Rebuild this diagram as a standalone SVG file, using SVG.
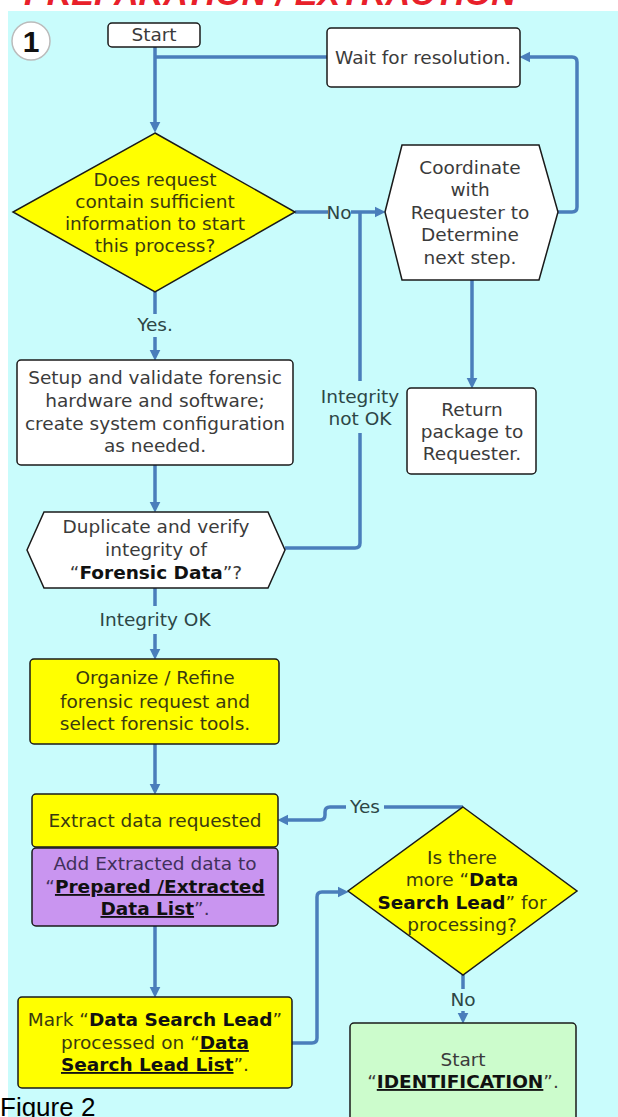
<svg xmlns="http://www.w3.org/2000/svg" width="618" height="1117" viewBox="0 0 618 1117">
<style>
.bg{fill:#c9fcfc}
.box{stroke:#1a1a1a;stroke-width:1.5}
.w{fill:#ffffff}
.y{fill:#ffff00}
.p{fill:#c995f0}
.g{fill:#ccfccc}
.t{font-family:"DejaVu Sans",Verdana,sans-serif;font-size:18.5px;text-anchor:middle}
.tw{fill:#3b3b3b}
.ty{fill:#3a3a10}
.tp{fill:#40305a}
.lab{fill:#2d4646}
.b{font-weight:bold;fill:#111}
.u{text-decoration:underline}
.c{fill:none;stroke:#4a7ebb;stroke-width:3.5;stroke-linejoin:round}
</style>
<defs>
<marker id="ah" markerUnits="userSpaceOnUse" markerWidth="12" markerHeight="12" refX="3" refY="5" orient="auto" viewBox="0 0 11 10">
<path d="M0,0 L10,5 L0,10 z" fill="#4a7ebb"/>
</marker>
</defs>
<rect x="0" y="0" width="618" height="1117" fill="#ffffff"/>
<text x="24" y="5" font-family="Liberation Sans,Arial,sans-serif" font-size="34" font-weight="bold" font-style="italic" fill="#e8202a">PREPARATION / EXTRACTION</text>
<rect class="bg" x="8" y="11" width="610" height="1106"/>

<g id="connectors">
<path class="c" d="M155,47 V125" marker-end="url(#ah)"/>
<path class="c" d="M327,57 H155"/>
<path class="c" d="M295,212 H328"/>
<path class="c" d="M351,212 H378" marker-end="url(#ah)"/>
<path class="c" d="M558,212 H572 Q577,212 577,207 V62 Q577,57 572,57 H527" marker-end="url(#ah)"/>
<path class="c" d="M472,280 V381" marker-end="url(#ah)"/>
<path class="c" d="M155,292 V314"/>
<path class="c" d="M155,337 V353" marker-end="url(#ah)"/>
<path class="c" d="M155,465 V505" marker-end="url(#ah)"/>
<path class="c" d="M285,548 H355 Q360,548 360,543 V433"/>
<path class="c" d="M360,381 V212"/>
<path class="c" d="M155,588 V606"/>
<path class="c" d="M155,634 V652" marker-end="url(#ah)"/>
<path class="c" d="M155,744 V787" marker-end="url(#ah)"/>
<path class="c" d="M155,926 V990" marker-end="url(#ah)"/>
<path class="c" d="M292,1043 H312 Q317,1043 317,1038 V897 Q317,892 322,892 H341" marker-end="url(#ah)"/>
<path class="c" d="M463,807 H384"/>
<path class="c" d="M346,807 H330 Q325,807 325,812 V815 Q325,820 320,820 H285" marker-end="url(#ah)"/>
<path class="c" d="M463,975 V989"/>
<path class="c" d="M463,1011 V1016" marker-end="url(#ah)"/>
</g>

<g id="labels">
<text class="t lab" x="339" y="219">No</text>
<text class="t lab" x="155" y="331">Yes.</text>
<text class="t lab" x="360" y="403">Integrity</text>
<text class="t lab" x="360" y="425">not OK</text>
<text class="t lab" x="155" y="626">Integrity OK</text>
<text class="t lab" x="365" y="813">Yes</text>
<text class="t lab" x="463" y="1006">No</text>
</g>

<g id="step-number">
<circle cx="31" cy="41" r="19" fill="#ffffff" stroke="#bbbbbb" stroke-width="1.5"/>
<text x="31" y="52" font-family="Liberation Sans,Arial,sans-serif" font-size="30" font-weight="bold" text-anchor="middle" fill="#111">1</text>
</g>

<g id="start">
<rect class="box w" x="108" y="23" width="92" height="24" rx="4"/>
<text class="t tw" x="154" y="41" font-size="17">Start</text>
</g>

<g id="wait">
<rect class="box w" x="327" y="28" width="193" height="59" rx="4"/>
<text class="t tw" x="423" y="64">Wait for resolution.</text>
</g>

<g id="decision-sufficient">
<polygon class="box y" stroke-width="1.2" points="155,133 295,212 155,292 13,212"/>
<text class="t ty" x="155" y="186">Does request</text>
<text class="t ty" x="155" y="208">contain sufficient</text>
<text class="t ty" x="155" y="230">information to start</text>
<text class="t ty" x="155" y="252">this process?</text>
</g>

<g id="coordinate">
<polygon class="box w" points="385,212 402,145 539,145 558,212 539,280 402,280"/>
<text class="t tw" x="470" y="174">Coordinate</text>
<text class="t tw" x="470" y="196">with</text>
<text class="t tw" x="470" y="219">Requester to</text>
<text class="t tw" x="470" y="241">Determine</text>
<text class="t tw" x="470" y="264">next step.</text>
</g>

<g id="return">
<rect class="box w" x="407" y="388" width="129" height="86" rx="4"/>
<text class="t tw" x="472" y="416">Return</text>
<text class="t tw" x="472" y="438">package to</text>
<text class="t tw" x="472" y="460">Requester.</text>
</g>

<g id="setup">
<rect class="box w" x="17" y="360" width="276" height="105" rx="4"/>
<text class="t tw" x="155" y="384">Setup and validate forensic</text>
<text class="t tw" x="155" y="407">hardware and software;</text>
<text class="t tw" x="155" y="430">create system configuration</text>
<text class="t tw" x="155" y="452">as needed.</text>
</g>

<g id="duplicate">
<polygon class="box w" points="27,550 44,512 268,512 285,550 268,588 44,588"/>
<text class="t tw" x="156" y="533">Duplicate and verify</text>
<text class="t tw" x="156" y="556">integrity of</text>
<text class="t tw" x="156" y="579">“<tspan class="b">Forensic Data</tspan>”?</text>
</g>

<g id="organize">
<rect class="box y" x="30" y="659" width="249" height="85" rx="4"/>
<text class="t ty" x="155" y="684">Organize / Refine</text>
<text class="t ty" x="155" y="708">forensic request and</text>
<text class="t ty" x="155" y="730">select forensic tools.</text>
</g>

<g id="extract">
<rect class="box y" x="32" y="794" width="246" height="53" rx="4"/>
<text class="t ty" x="155" y="827">Extract data requested</text>
</g>

<g id="add-extracted">
<rect class="box p" x="32" y="848" width="246" height="78" rx="4"/>
<text class="t tp" x="155" y="870">Add Extracted data to</text>
<text class="t tp" x="155" y="893">“<tspan class="b u" fill="#201a40">Prepared /Extracted</tspan></text>
<text class="t tp" x="155" y="915"><tspan class="b u" fill="#201a40">Data List</tspan>”.</text>
</g>

<g id="mark">
<rect class="box y" x="18" y="997" width="274" height="91" rx="4"/>
<text class="t ty" x="155" y="1026">Mark “<tspan class="b">Data Search Lead</tspan>”</text>
<text class="t ty" x="155" y="1049">processed on “<tspan class="b u">Data</tspan></text>
<text class="t ty" x="155" y="1071"><tspan class="b u">Search Lead List</tspan>”.</text>
</g>

<g id="decision-more">
<polygon class="box y" stroke-width="1.2" points="463,807 577,891 463,975 348,891"/>
<text class="t ty" x="462" y="864">Is there</text>
<text class="t ty" x="462" y="886">more “<tspan class="b">Data</tspan></text>
<text class="t ty" x="462" y="909"><tspan class="b">Search Lead</tspan>” for</text>
<text class="t ty" x="462" y="931">processing?</text>
</g>

<g id="identification">
<rect class="box g" x="350" y="1023" width="226" height="110" rx="4"/>
<text class="t tw" x="463" y="1066">Start</text>
<text class="t tw" x="463" y="1088">“<tspan class="b u">IDENTIFICATION</tspan>”.</text>
</g>

<text x="0" y="1116" font-family="Liberation Sans,Arial,sans-serif" font-size="26" fill="#000">Figure 2</text>
</svg>
